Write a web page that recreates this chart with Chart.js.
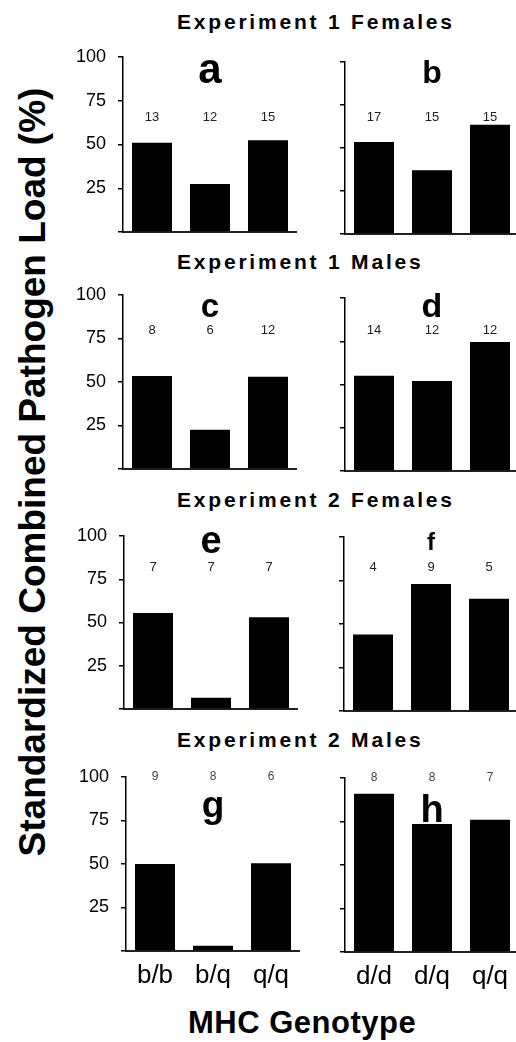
<!DOCTYPE html>
<html>
<head>
<meta charset="utf-8">
<script src="https://cdn.jsdelivr.net/npm/chart.js@4"></script>
<style>
  html, body { margin: 0; padding: 0; background: #fff; overflow: hidden; }
  #page { position: relative; width: 516px; height: 1042px; overflow: hidden; font-family: "Liberation Sans", Arial, sans-serif; color: #000; }
  #page canvas { position: absolute; }
  .title { position: absolute; left: 177px; font-weight: bold; font-size: 21px; line-height: 20px; letter-spacing: 2.8px; white-space: nowrap; }
  #ytitle { position: absolute; left: 33px; top: 472px; transform: translate(-50%, -50%) rotate(-90deg); font-weight: bold; font-size: 37px; white-space: nowrap; }
  #xtitle { position: absolute; left: 188px; top: 1007px; font-weight: bold; font-size: 31px; line-height: 31px; letter-spacing: 0.5px; white-space: nowrap; }
</style>
</head>
<body>
<div id="page">
  <div class="title" style="top:12px">Experiment 1 Females</div>
  <div class="title" style="top:252px">Experiment 1 Males</div>
  <div class="title" style="top:490px">Experiment 2 Females</div>
  <div class="title" style="top:730px">Experiment 2 Males</div>
  <div id="ytitle">Standardized Combined Pathogen Load (%)</div>
  <div id="xtitle">MHC Genotype</div>
</div>
<script>
// genotypes on the x axis
const genotypesLeft = ['b/b', 'b/q', 'q/q'];
const genotypesRight = ['d/d', 'd/q', 'q/q'];
const yTickValues = [0, 25, 50, 75, 100];

// pathogen load (%) and sample sizes
const loadA = [51, 27.5, 52.5];
const nA = [13, 12, 15];
const loadB = [53.5, 37, 63.5];
const nB = [17, 15, 15];
const loadC = [53.5, 22.5, 53];
const nC = [8, 6, 12];
const loadD = [55, 52, 74.5];
const nD = [14, 12, 12];
const loadE = [55.5, 6.5, 53];
const nE = [7, 7, 7];
const loadF = [44, 73, 64.5];
const nF = [4, 9, 5];
const loadG = [50, 3, 50.5];
const nG = [9, 8, 6];
const loadH = [91, 73.5, 76];
const nH = [8, 8, 7];

// panel layout (pixels): axis x, y of 100 and y of 0
const panels = [
  { letter: 'a', cats: genotypesLeft,  values: loadA, counts: nA, left: true,  axisX: 123, y100: 57,  y0: 232, letterSize: 42, letterBase: 26, nOffset: 60 },
  { letter: 'b', cats: genotypesRight, values: loadB, counts: nB, left: false, axisX: 345, y100: 62,  y0: 234, letterSize: 32, letterBase: 21, nOffset: 55 },
  { letter: 'c', cats: genotypesLeft,  values: loadC, counts: nC, left: true,  axisX: 123, y100: 295, y0: 469, letterSize: 33, letterBase: 22, nOffset: 35 },
  { letter: 'd', cats: genotypesRight, values: loadD, counts: nD, left: false, axisX: 345, y100: 298, y0: 471, letterSize: 34, letterBase: 19, nOffset: 32 },
  { letter: 'e', cats: genotypesLeft,  values: loadE, counts: nE, left: true,  axisX: 124, y100: 536, y0: 709, letterSize: 38, letterBase: 17, nOffset: 31 },
  { letter: 'f', cats: genotypesRight, values: loadF, counts: nF, left: false, axisX: 344, y100: 537, y0: 711, letterSize: 24, letterBase: 13, nOffset: 30 },
  { letter: 'g', cats: genotypesLeft,  values: loadG, counts: nG, left: true,  axisX: 126, y100: 777, y0: 951, letterSize: 37, letterBase: 40, nOffset: 0, bottom: true },
  { letter: 'h', cats: genotypesRight, values: loadH, counts: nH, left: false, axisX: 345, y100: 778, y0: 952, letterSize: 38, letterBase: 44, nOffset: 0, bottom: true },
];

const FONT = '"Liberation Sans", Arial, sans-serif';
const PAD_TOP = 15;
const AREA_W = 174;

// sample sizes above the bars and the panel letter
const panelText = {
  id: 'panelText',
  afterDatasetsDraw(chart, args, opts) {
    const { ctx, chartArea } = chart;
    const bars = chart.getDatasetMeta(0).data;
    ctx.save();
    ctx.textAlign = 'center';
    ctx.textBaseline = 'middle';
    ctx.fillStyle = opts.small ? '#444' : '#222';
    ctx.font = (opts.small ? 12 : 13) + 'px ' + FONT;
    bars.forEach((bar, i) => ctx.fillText(String(opts.counts[i]), bar.x, chartArea.top + opts.nOffset));
    ctx.fillStyle = '#000';
    ctx.textBaseline = 'alphabetic';
    ctx.font = 'bold ' + opts.letterSize + 'px ' + FONT;
    ctx.fillText(opts.letter, (chartArea.left + chartArea.right) / 2, chartArea.top + opts.letterBase);
    ctx.restore();
  }
};

// keep the tick labels from pushing the plot area around
const noScalePadding = s => { s.paddingTop = 0; s.paddingBottom = 0; s.paddingLeft = 0; s.paddingRight = 0; };

const page = document.getElementById('page');

panels.forEach(p => {
  const canvasLeft = p.left ? 60 : 315;
  const bottomH = p.bottom ? 45 : 2;
  const canvas = document.createElement('canvas');
  canvas.width = p.axisX + AREA_W - canvasLeft;
  canvas.height = PAD_TOP + (p.y0 - p.y100) + bottomH;
  canvas.style.left = canvasLeft + 'px';
  canvas.style.top = (p.y100 - PAD_TOP) + 'px';
  page.appendChild(canvas);

  new Chart(canvas, {
    type: 'bar',
    data: {
      labels: p.cats,
      datasets: [{
        data: p.values,
        backgroundColor: '#000',
        borderWidth: 0,
        barPercentage: 0.69,
        categoryPercentage: 1,
      }]
    },
    options: {
      responsive: false,
      animation: false,
      devicePixelRatio: 1,
      layout: { padding: { top: PAD_TOP, left: 0, right: 0, bottom: 0 } },
      plugins: {
        legend: { display: false },
        tooltip: { enabled: false },
        panelText: { letter: p.letter, letterSize: p.letterSize, letterBase: p.letterBase, counts: p.counts, nOffset: p.nOffset, small: !!p.bottom },
      },
      scales: {
        x: {
          grid: { display: false, drawTicks: false },
          border: { display: true, color: '#222', width: 2 },
          ticks: { display: !!p.bottom, color: '#000', font: { family: FONT, size: 26 }, padding: 9, maxRotation: 0, autoSkip: false },
          afterFit: s => { s.height = bottomH; noScalePadding(s); },
        },
        y: {
          min: 0,
          max: 100,
          afterBuildTicks: s => { s.ticks = yTickValues.map(v => ({ value: v })); },
          grid: { drawOnChartArea: false, drawTicks: true, tickLength: 5, color: '#000', lineWidth: 1.5 },
          border: { display: true, color: '#000', width: 1.5 },
          ticks: { display: p.left, color: '#000', font: { family: FONT, size: 18 }, padding: 12, callback: v => (v === 0 ? '' : v) },
          afterFit: s => { s.width = p.axisX - canvasLeft; noScalePadding(s); },
        }
      }
    },
    plugins: [panelText]
  });
});
</script>
</body>
</html>
